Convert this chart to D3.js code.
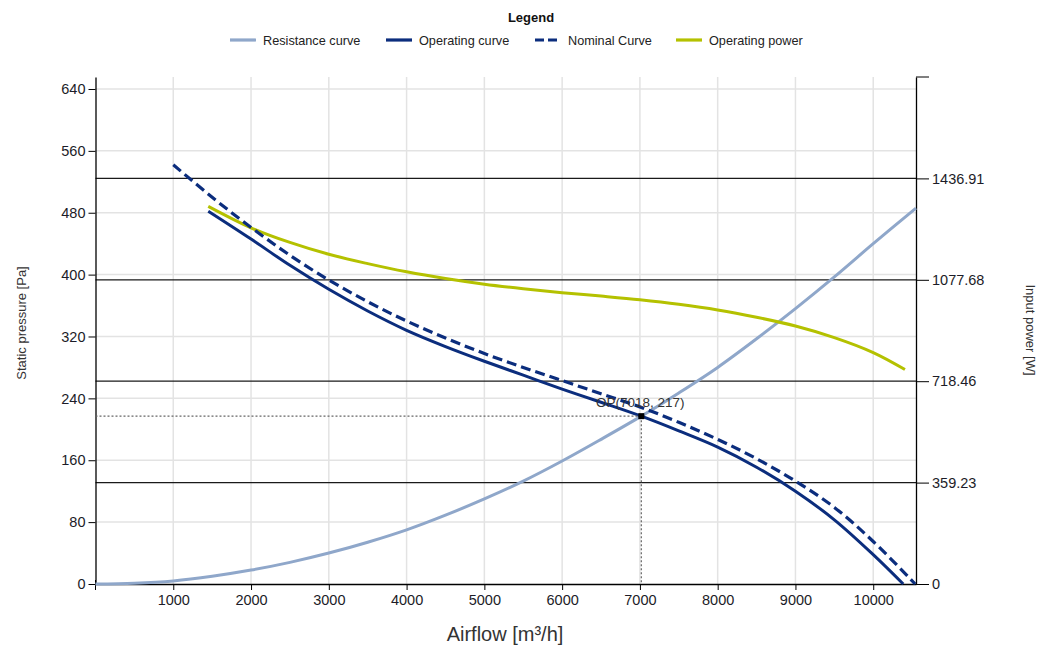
<!DOCTYPE html>
<html>
<head>
<meta charset="utf-8">
<script src="https://cdn.jsdelivr.net/npm/d3@7"></script>
<style>
  html, body { margin: 0; padding: 0; background: #fff; }
  svg { display: block; font-family: "Liberation Sans", Arial, sans-serif; }
</style>
</head>
<body>
<svg id="chart" width="1042" height="649"></svg>
<script>
// ---------- data ----------
const seriesNames = ["Resistance curve", "Operating curve", "Nominal Curve", "Operating power"];

const resistanceFlow = [0,500,1000,1500,2000,2500,3000,3500,4000,4500,5000,5500,6000,6500,7018,7500,8000,8500,9000,9500,10000,10550];
const resistancePressure = [0,1,4,10,18,28,40,54,70,89,110,133,159,187,217,247,280,317,356,397,440,486];

const operatingFlow = [1450,2000,2500,3000,3500,4000,4500,5000,5500,6000,6500,7018,7500,8000,8500,9000,9500,10000,10386];
const operatingPressure = [482,446,412,381,353,328,307,288,270,252,235,217,198,177,151,120,83,38,0];

const nominalFlow = [1000,1500,2000,2500,3000,3500,4000,4500,5000,5500,6000,6500,7000,7500,8000,8500,9000,9500,10000,10540];
const nominalPressure = [542,500,461,425,393,365,340,318,298,280,263,246,229,209,187,162,133,99,55,0];

const powerFlow = [1450,2000,2500,3000,3500,4000,4500,5000,5500,6000,6500,7000,7500,8000,8500,9000,9500,10000,10408];
const powerWatts = [1338,1262,1210,1168,1135,1106,1082,1062,1046,1032,1020,1007,991,971,945,914,873,820,760];

const operatingPoint = { flow: 7018, pressure: 217 };

const xTicks = [1000,2000,3000,4000,5000,6000,7000,8000,9000,10000];
const leftTicks = [0,80,160,240,320,400,480,560,640];
const rightTicks = [0, 359.23, 718.46, 1077.68, 1436.91];
const rightTickLabels = ["0", "359.23", "718.46", "1077.68", "1436.91"];

// ---------- layout ----------
const svg = d3.select("#chart");
const L = 95.5, R = 916, T = 77, B = 584;

const x = d3.scaleLinear().domain([0, 10550]).range([L, R]);
const yL = d3.scaleLinear().domain([0, 655.5]).range([B, T]);
const yR = d3.scaleLinear().domain([0, 1796.15]).range([B, T]);

const cResist = "#8fa7ca", cOper = "#0b2d7d", cPower = "#b4c100";

// gridlines
const grid = svg.append("g");
grid.selectAll(".gx").data(xTicks).enter().append("line")
  .attr("x1", d => x(d)).attr("x2", d => x(d)).attr("y1", T).attr("y2", B)
  .attr("stroke", "#e3e3e3").attr("stroke-width", 1.5);
grid.selectAll(".gy").data(leftTicks.filter(d => d > 0)).enter().append("line")
  .attr("x1", L).attr("x2", R).attr("y1", d => yL(d)).attr("y2", d => yL(d))
  .attr("stroke", "#e3e3e3").attr("stroke-width", 1.5);
grid.selectAll(".gr").data(rightTicks.filter(d => d > 0)).enter().append("line")
  .attr("x1", L).attr("x2", R).attr("y1", d => yR(d)).attr("y2", d => yR(d))
  .attr("stroke", "#1a1a1a").attr("stroke-width", 1.2);

// axes
const tickFont = "14.5px";
const gx = svg.append("g").attr("transform", `translate(0,${B})`)
  .call(d3.axisBottom(x).tickValues(xTicks).tickSize(6).tickSizeOuter(0).tickPadding(5).tickFormat(d3.format("d")));
const gl = svg.append("g").attr("transform", `translate(${L},0)`)
  .call(d3.axisLeft(yL).tickValues(leftTicks).tickSize(7).tickSizeOuter(0).tickPadding(3));
const gr = svg.append("g").attr("transform", `translate(${R},0)`)
  .call(d3.axisRight(yR).tickValues(rightTicks).tickSize(13).tickSizeOuter(0).tickPadding(3)
    .tickFormat((d, i) => rightTickLabels[i]));
svg.append("line").attr("x1", x(0)).attr("x2", x(0)).attr("y1", B - 4).attr("y2", B + 6).attr("stroke", "#000");
svg.append("line").attr("x1", R).attr("x2", R + 13).attr("y1", T).attr("y2", T).attr("stroke", "#000");

[gx, gl, gr].forEach(g => {
  g.selectAll("text").attr("font-size", tickFont).attr("fill", "#1c1c28")
    .attr("font-family", "'Liberation Sans', Arial, sans-serif");
  g.selectAll("line").attr("stroke", "#000");
  g.select(".domain").attr("stroke", "#000").attr("stroke-width", 1.3);
});

// lines
const lineL = d3.line().x(d => x(d[0])).y(d => yL(d[1])).curve(d3.curveCatmullRom.alpha(0.5));
const lineR = d3.line().x(d => x(d[0])).y(d => yR(d[1])).curve(d3.curveCatmullRom.alpha(0.5));

const plot = svg.append("g");
plot.append("path").datum(resistanceFlow.map((f, i) => [f, resistancePressure[i]]))
  .attr("d", lineL).attr("fill", "none").attr("stroke", cResist).attr("stroke-width", 3);
plot.append("path").datum(powerFlow.map((f, i) => [f, powerWatts[i]]))
  .attr("d", lineR).attr("fill", "none").attr("stroke", cPower).attr("stroke-width", 3);
plot.append("path").datum(nominalFlow.map((f, i) => [f, nominalPressure[i]]))
  .attr("d", lineL).attr("fill", "none").attr("stroke", cOper).attr("stroke-width", 3.2)
  .attr("stroke-dasharray", "10,5");
plot.append("path").datum(operatingFlow.map((f, i) => [f, operatingPressure[i]]))
  .attr("d", lineL).attr("fill", "none").attr("stroke", cOper).attr("stroke-width", 3);

// operating point crosshair
const opx = x(operatingPoint.flow), opy = yL(operatingPoint.pressure);
svg.append("line").attr("x1", L).attr("x2", opx).attr("y1", opy).attr("y2", opy)
  .attr("stroke", "#666").attr("stroke-width", 1.2).attr("stroke-dasharray", "2,2");
svg.append("line").attr("x1", opx).attr("x2", opx).attr("y1", opy).attr("y2", B)
  .attr("stroke", "#666").attr("stroke-width", 1.2).attr("stroke-dasharray", "2,2");
svg.append("rect").attr("x", opx - 3).attr("y", opy - 3).attr("width", 6).attr("height", 6).attr("fill", "#000");
svg.append("text").attr("x", opx - 1).attr("y", opy - 9).attr("text-anchor", "middle")
  .attr("font-size", "13.5px").attr("fill", "#333")
  .text(`OP(${operatingPoint.flow}, ${operatingPoint.pressure})`);

// axis titles
svg.append("text").attr("x", 505).attr("y", 641).attr("text-anchor", "middle")
  .attr("font-size", "20px").attr("fill", "#333").text("Airflow [m³/h]");
svg.append("text").attr("transform", "translate(26,323) rotate(-90)").attr("text-anchor", "middle")
  .attr("font-size", "13px").attr("fill", "#333").text("Static pressure [Pa]");
svg.append("text").attr("transform", "translate(1026,330) rotate(90)").attr("text-anchor", "middle")
  .attr("font-size", "13px").attr("fill", "#333").text("Input power [W]");

// legend
svg.append("text").attr("x", 531).attr("y", 22).attr("text-anchor", "middle")
  .attr("font-size", "13px").attr("font-weight", "bold").attr("fill", "#111").text("Legend");
const legendX = [230, 386, 535, 676];
const legendColors = [cResist, cOper, cOper, cPower];
const legendDash = [null, null, "9,4", null];
const lg = svg.append("g");
seriesNames.forEach((name, i) => {
  lg.append("line").attr("x1", legendX[i]).attr("x2", legendX[i] + 26).attr("y1", 40).attr("y2", 40)
    .attr("stroke", legendColors[i]).attr("stroke-width", 3.2)
    .attr("stroke-dasharray", legendDash[i]);
  lg.append("text").attr("x", legendX[i] + 33).attr("y", 45).attr("font-size", "12.7px")
    .attr("fill", "#222").text(name);
});
</script>
</body>
</html>
